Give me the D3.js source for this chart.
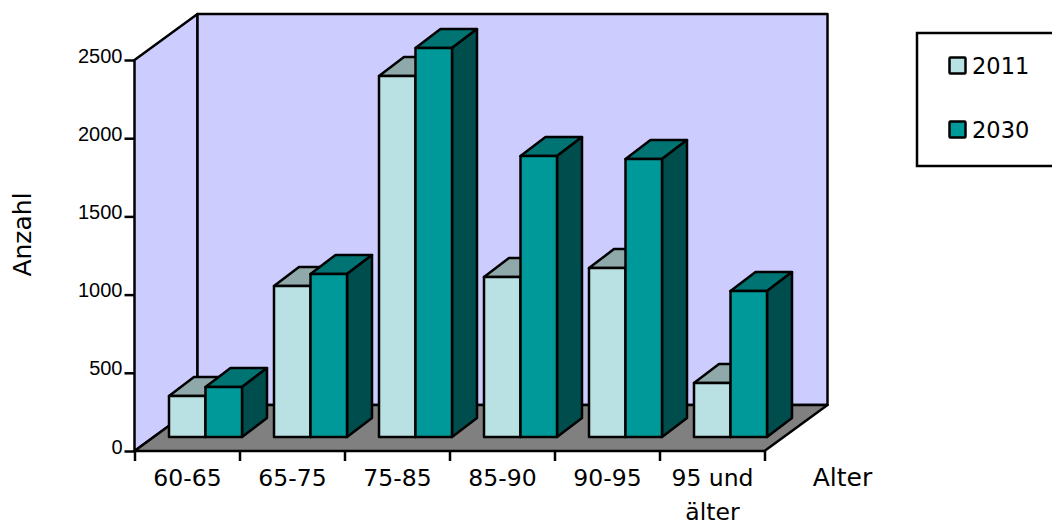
<!DOCTYPE html>
<html>
<head>
<meta charset="utf-8">
<script src="https://cdn.jsdelivr.net/npm/d3@7"></script>
<style>
html, body { margin: 0; padding: 0; background: #fff; overflow: hidden; }
svg { display: block; }
.domain, .tick line { stroke: #000; stroke-width: 2.5; }
</style>
</head>
<body>
<div id="container"></div>
<script>
const categories = [['60-65'], ['65-75'], ['75-85'], ['85-90'], ['90-95'], ['95 und', 'älter']];
const seriesNames = ['2011', '2030'];
const values2011 = [262, 965, 2308, 1023, 1080, 345];
const values2030 = [320, 1042, 2487, 1797, 1777, 933];
const yTicks = [0, 500, 1000, 1500, 2000, 2500];

const width = 1052;
const height = 523;

const left = 134.5;
const right = 764.5;
const bottom = 451;
const top3d = 60;
// offset of the back wall from the front plane
const depthX = 63;
const depthY = -46;
// offset of the bars from the front plane, and their own depth
const baseX = 19;
const baseY = -14;
const barDX = 25;
const barDY = -19;

const colors = {
    wall: '#CCCCFF', floor: '#808080',
    2011: { front: '#B9E0E2', top: '#8FA9AB', side: '#6F8A8C' },
    2030: { front: '#009999', top: '#007373', side: '#004D4D' }
};

const svg = d3.select('#container').append('svg')
    .attr('width', width)
    .attr('height', height);

const x = d3.scaleLinear().domain([0, categories.length]).range([left, right]);
const y = d3.scaleLinear().domain([0, 2500]).range([bottom, top3d]);
const band = d3.scaleBand().domain(seriesNames).range([0, 73]);

const poly = (pts) => 'M' + pts.map((p) => p.join(',')).join('L') + 'Z';

function shape(g, d, fill) {
    g.append('path')
        .attr('d', d)
        .attr('fill', fill)
        .attr('stroke', '#000')
        .attr('stroke-width', 2.5)
        .attr('stroke-linejoin', 'round');
}

// walls and floor
const box = svg.append('g');
shape(box, poly([[left, y(0)], [left, y(2500)], [left + depthX, y(2500) + depthY], [left + depthX, y(0) + depthY]]), colors.wall);
shape(box, poly([[left + depthX, y(2500) + depthY], [right + depthX, y(2500) + depthY], [right + depthX, y(0) + depthY], [left + depthX, y(0) + depthY]]), colors.wall);
shape(box, poly([[left, y(0)], [right, y(0)], [right + depthX, y(0) + depthY], [left + depthX, y(0) + depthY]]), colors.floor);

// bars
const data = categories.map((c, i) => ({ i, rows: [
    { name: '2011', value: values2011[i] },
    { name: '2030', value: values2030[i] }
] }));

const groups = svg.append('g').selectAll('g').data(data).enter().append('g');
groups.each(function (d) {
    const group = d3.select(this);
    d.rows.forEach((r) => {
        const x0 = x(d.i) + baseX + 15.5 + band(r.name);
        const x1 = x0 + band.bandwidth();
        const y0 = y(0) + baseY;
        const y1 = y(r.value) + baseY;
        const c = colors[r.name];
        shape(group, poly([[x0, y1], [x1, y1], [x1 + barDX, y1 + barDY], [x0 + barDX, y1 + barDY]]), c.top);
        shape(group, poly([[x1, y1], [x1 + barDX, y1 + barDY], [x1 + barDX, y0 + barDY], [x1, y0]]), c.side);
        shape(group, poly([[x0, y0], [x0, y1], [x1, y1], [x1, y0]]), c.front);
    });
});

// axes
const yAxis = d3.axisLeft(y).tickValues(yTicks).tickSize(10).tickSizeOuter(0).tickPadding(2).tickFormat(d3.format('d'));
const yg = svg.append('g').attr('transform', `translate(${left} 0)`).call(yAxis);
yg.select('.domain').remove();
yg.selectAll('text')
    .attr('font-family', '"Liberation Sans", Arial, sans-serif')
    .attr('font-size', 20)
    .attr('dy', '0.1em')
    .attr('fill', '#000');

const xAxis = d3.axisBottom(x).tickValues(d3.range(categories.length + 1)).tickSize(10).tickSizeOuter(0).tickFormat('');
const xg = svg.append('g').attr('transform', `translate(0 ${bottom})`).call(xAxis);
xg.select('.domain').remove();

const uiFont = '"DejaVu Sans", sans-serif';

const labels = svg.append('g').selectAll('text').data(categories).enter().append('text')
    .attr('text-anchor', 'middle')
    .attr('font-family', uiFont)
    .attr('font-size', 23.5)
    .attr('fill', '#000');
labels.each(function (d, i) {
    d3.select(this).selectAll('tspan').data(d).enter().append('tspan')
        .attr('x', x(i + 0.5) + 0.5)
        .attr('y', (t, k) => 486 + k * 34)
        .text((t) => t);
});

svg.append('text')
    .attr('x', 842.5).attr('y', 486)
    .attr('text-anchor', 'middle')
    .attr('font-family', uiFont).attr('font-size', 25)
    .text('Alter');

svg.append('text')
    .attr('transform', 'translate(31 234.5) rotate(-90)')
    .attr('text-anchor', 'middle')
    .attr('font-family', uiFont).attr('font-size', 25)
    .text('Anzahl');

// legend, runs off the right edge like the original
const legend = svg.append('g');
legend.append('rect')
    .attr('x', 917).attr('y', 33)
    .attr('width', 160).attr('height', 133)
    .attr('fill', '#fff').attr('stroke', '#000').attr('stroke-width', 2.5);

const items = legend.selectAll('g').data(seriesNames).enter().append('g')
    .attr('transform', (d, i) => `translate(0 ${i * 64})`);
items.append('rect')
    .attr('x', 949.5).attr('y', 57.5)
    .attr('width', 16).attr('height', 16)
    .attr('rx', 1)
    .attr('fill', (d) => colors[d].front)
    .attr('stroke', '#000').attr('stroke-width', 2.5);
items.append('text')
    .attr('x', 972).attr('y', 74)
    .attr('font-family', uiFont).attr('font-size', 22.5)
    .attr('fill', '#000')
    .text((d) => d);
</script>
</body>
</html>
